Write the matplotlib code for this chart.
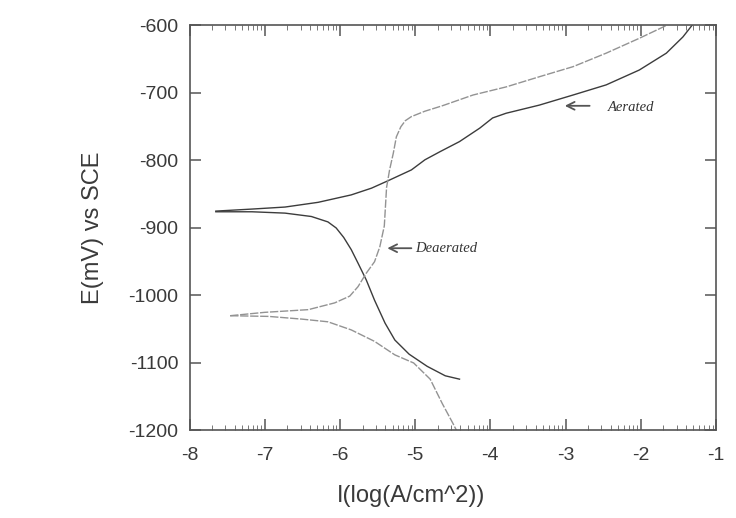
import numpy as np
import matplotlib
matplotlib.use("Agg")
import matplotlib.pyplot as plt
from matplotlib.ticker import FixedLocator

# ---------------------------------------------------------------
# Polarisation curves
# x : log(i) [log(A/cm^2)] , y : E [mV vs SCE]
# ---------------------------------------------------------------
aer_anodic_x = [-7.65, -7.17, -6.73, -6.29, -5.85, -5.58, -5.36, -5.05, -4.87,
                -4.67, -4.41, -4.14, -3.97, -3.79, -3.35, -2.90, -2.46, -2.02,
                -1.66, -1.44, -1.32]
aer_anodic_y = [-875, -872, -869, -862, -851, -841, -830, -814, -799,
                -787, -772, -752, -737, -730, -718, -703, -688, -666,
                -641, -617, -600]

aer_cathodic_x = [-7.65, -7.17, -6.73, -6.38, -6.16, -6.05, -5.95, -5.85, -5.76,
                  -5.65, -5.54, -5.40, -5.27, -5.08, -4.84, -4.60, -4.41]
aer_cathodic_y = [-876, -876, -878, -883, -891, -900, -914, -932, -952,
                  -977, -1007, -1041, -1066, -1087, -1105, -1119, -1124]

deaer_anodic_x = [-7.46, -7.00, -6.42, -6.07, -5.87, -5.76, -5.65, -5.54, -5.47,
                  -5.41, -5.38, -5.34, -5.29, -5.25, -5.19, -5.13, -5.05, -4.87,
                  -4.64, -4.23, -3.79, -3.35, -2.90, -2.46, -2.02, -1.66]
deaer_anodic_y = [-1030, -1025, -1021, -1011, -1001, -987, -967, -950, -928,
                  -897, -840, -814, -789, -765, -750, -741, -735, -727,
                  -719, -703, -691, -676, -661, -641, -619, -600]

deaer_cathodic_x = [-7.46, -6.95, -6.51, -6.16, -5.85, -5.54, -5.27, -5.02, -4.80,
                    -4.64, -4.50, -4.45]
deaer_cathodic_y = [-1030, -1031, -1035, -1039, -1051, -1068, -1088, -1100, -1124,
                    -1160, -1189, -1200]

x_major = [-8, -7, -6, -5, -4, -3, -2, -1]
y_major = [-600, -700, -800, -900, -1000, -1100, -1200]

# annotation anchors (data coords)
aerated_arrow = ((-3.01, -719), (-2.68, -719))
aerated_text = (-2.44, -722)
deaerated_arrow = ((-5.37, -930), (-5.05, -930))
deaerated_text = (-5.00, -930)

# ---------------------------------------------------------------
plt.rcParams['font.family'] = ['Liberation Sans', 'DejaVu Sans']
plt.rcParams['axes.unicode_minus'] = False

fig = plt.figure(figsize=(7.36, 5.18), dpi=100)
ax = fig.add_axes([0.2575, 0.169, 0.7153, 0.7818])

aer_col = '#3c3c3c'
dea_col = '#939393'
ax.plot(aer_anodic_x, aer_anodic_y, color=aer_col, lw=1.0)
ax.plot(aer_cathodic_x, aer_cathodic_y, color=aer_col, lw=1.0)
ax.plot(deaer_anodic_x, deaer_anodic_y, color=dea_col, lw=1.0, dashes=(6, 1.2))
ax.plot(deaer_cathodic_x, deaer_cathodic_y, color=dea_col, lw=1.0, dashes=(6, 1.2))

ax.set_xlim(-8, -1)
ax.set_ylim(-1200, -600)

# log style minor ticks inside each decade
minor = [d + np.log10(k) for d in x_major[:-1] for k in range(2, 10)]
ax.xaxis.set_major_locator(FixedLocator(x_major))
ax.xaxis.set_minor_locator(FixedLocator(minor))
ax.yaxis.set_major_locator(FixedLocator(y_major))

ax.tick_params(which='major', direction='in', length=8, width=1.1,
               top=True, right=True, color='#555555',
               labelsize=14, labelcolor='#3a3a3a')
ax.tick_params(axis='x', which='major', pad=12)
ax.tick_params(axis='y', which='major', pad=8)
ax.tick_params(which='minor', direction='in', length=3.5, width=0.7,
               top=True, color='#777777')
for s in ax.spines.values():
    s.set_color('#555555')
    s.set_linewidth(1.2)

ax.set_xlabel('I(log(A/cm^2))', fontsize=17, color='#3a3a3a')
ax.set_ylabel('E(mV) vs SCE', fontsize=17, color='#3a3a3a')
ax.xaxis.set_label_coords(0.42, -0.135)
ax.yaxis.set_label_coords(-0.163, 0.5)

arrow_props = dict(arrowstyle='->', color='#555555', lw=1.3,
                   shrinkA=0, shrinkB=0, mutation_scale=14)
ax.annotate('', xy=aerated_arrow[0], xytext=aerated_arrow[1],
            arrowprops=arrow_props)
ax.text(*aerated_text, 'Aerated', fontsize=10.5, style='italic',
        family=['Liberation Serif', 'DejaVu Serif'], color='#333333',
        va='center', ha='left')
ax.annotate('', xy=deaerated_arrow[0], xytext=deaerated_arrow[1],
            arrowprops=arrow_props)
ax.text(*deaerated_text, 'Deaerated', fontsize=10.5, style='italic',
        family=['Liberation Serif', 'DejaVu Serif'], color='#333333',
        va='center', ha='left')

fig.savefig('out.png', dpi=100)
